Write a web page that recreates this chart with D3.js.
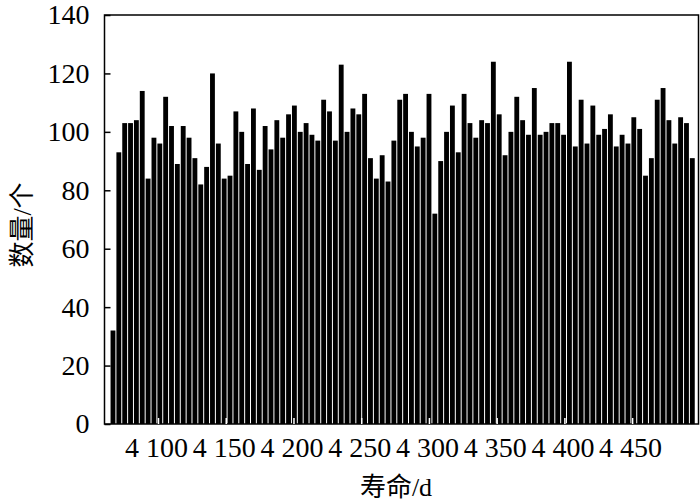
<!doctype html>
<html>
<head>
<meta charset="utf-8">
<style>
  body { margin: 0; background: #fff; }
  svg text { font-family: "Liberation Serif", "Times New Roman", serif; fill: #000; }
  .cjk { font-family: "Liberation Serif", "Noto Sans CJK SC", serif; }
</style>
<script src="https://d3js.org/d3.v7.min.js"></script>
</head>
<body>
<svg id="chart" width="700" height="504"></svg>
<script>
// lifetime bins (days): first bin start and bin width
var binStart = 4064.6;
var binWidth = 4.32;

// number of items in each bin, left to right
var counts = [
  32, 93, 103, 103, 104, 114, 84, 98, 96, 112,
  102, 89, 102, 98, 91, 82, 88, 120, 96, 84,
  85, 107, 100, 89, 108, 87, 102, 94, 104, 98,
  106, 109, 100, 103, 99, 97, 111, 107, 97, 123,
  100, 108, 106, 113, 91, 84, 92, 83, 97, 111,
  113, 100, 95, 98, 113, 72, 90, 100, 109, 93,
  113, 103, 98, 104, 103, 124, 106, 92, 100, 112,
  104, 99, 115, 99, 100, 103, 103, 99, 124, 95,
  111, 96, 109, 99, 101, 106, 95, 99, 96, 105,
  101, 85, 91, 111, 115, 104, 96, 105, 103, 91
];

var xTicks = [4100, 4150, 4200, 4250, 4300, 4350, 4400, 4450];
var yTicks = [0, 20, 40, 60, 80, 100, 120, 140];

var xTitle = "寿命/d";
var yTitle = "数量/个";

(function() {
var svg = d3.select("#chart");
var plotL = 104.5, plotR = 698.5, plotT = 15, plotB = 424;

var x = d3.scaleLinear().domain([4060.5, 4499]).range([plotL, plotR]);
var y = d3.scaleLinear().domain([0, 140]).range([plotB, plotT]);

// bars
svg.append("g")
  .selectAll("rect")
  .data(counts)
  .enter().append("rect")
  .attr("x", function(d, i) { return x(binStart + i * binWidth) + 0.5; })
  .attr("width", function(d, i) {
    return x(binStart + (i + 1) * binWidth) - x(binStart + i * binWidth) - 1;
  })
  .attr("y", function(d) { return y(d); })
  .attr("height", function(d) { return y(0) - y(d); })
  .attr("fill", "#000");

// frame
svg.append("rect")
  .attr("x", plotL).attr("y", plotT)
  .attr("width", plotR - plotL).attr("height", plotB - plotT)
  .attr("fill", "none")
  .attr("stroke", "#000")
  .attr("stroke-width", 1.5);

// y axis
var yAxis = svg.append("g")
  .attr("transform", "translate(" + plotL + ",0)")
  .call(d3.axisLeft(y).tickValues(yTicks).tickSizeInner(-6).tickSizeOuter(0).tickPadding(15));
yAxis.select(".domain").remove();
yAxis.selectAll("line").attr("stroke", "#000").attr("stroke-width", 1.5);
yAxis.selectAll("text").attr("font-size", 28).attr("font-family", "Liberation Serif");

// x axis
var xAxis = svg.append("g")
  .attr("transform", "translate(0," + plotB + ")")
  .call(d3.axisBottom(x).tickValues(xTicks).tickSizeInner(-6).tickSizeOuter(0).tickPadding(13)
    .tickFormat(function(d) { return d3.format(",")(d).replace(",", " "); }));
xAxis.select(".domain").remove();
xAxis.selectAll("line").attr("stroke", "#fff").attr("stroke-width", 1.5);
xAxis.selectAll("text").attr("font-size", 28).attr("font-family", "Liberation Serif")
  .attr("dx", -2);

// axis titles
svg.append("text")
  .attr("class", "cjk")
  .attr("x", 396).attr("y", 496)
  .attr("text-anchor", "middle")
  .attr("font-size", 26)
  .text(xTitle);

svg.append("text")
  .attr("class", "cjk")
  .attr("transform", "translate(31,225) rotate(-90)")
  .attr("text-anchor", "middle")
  .attr("font-size", 26)
  .text(yTitle);
})();
</script>
</body>
</html>
